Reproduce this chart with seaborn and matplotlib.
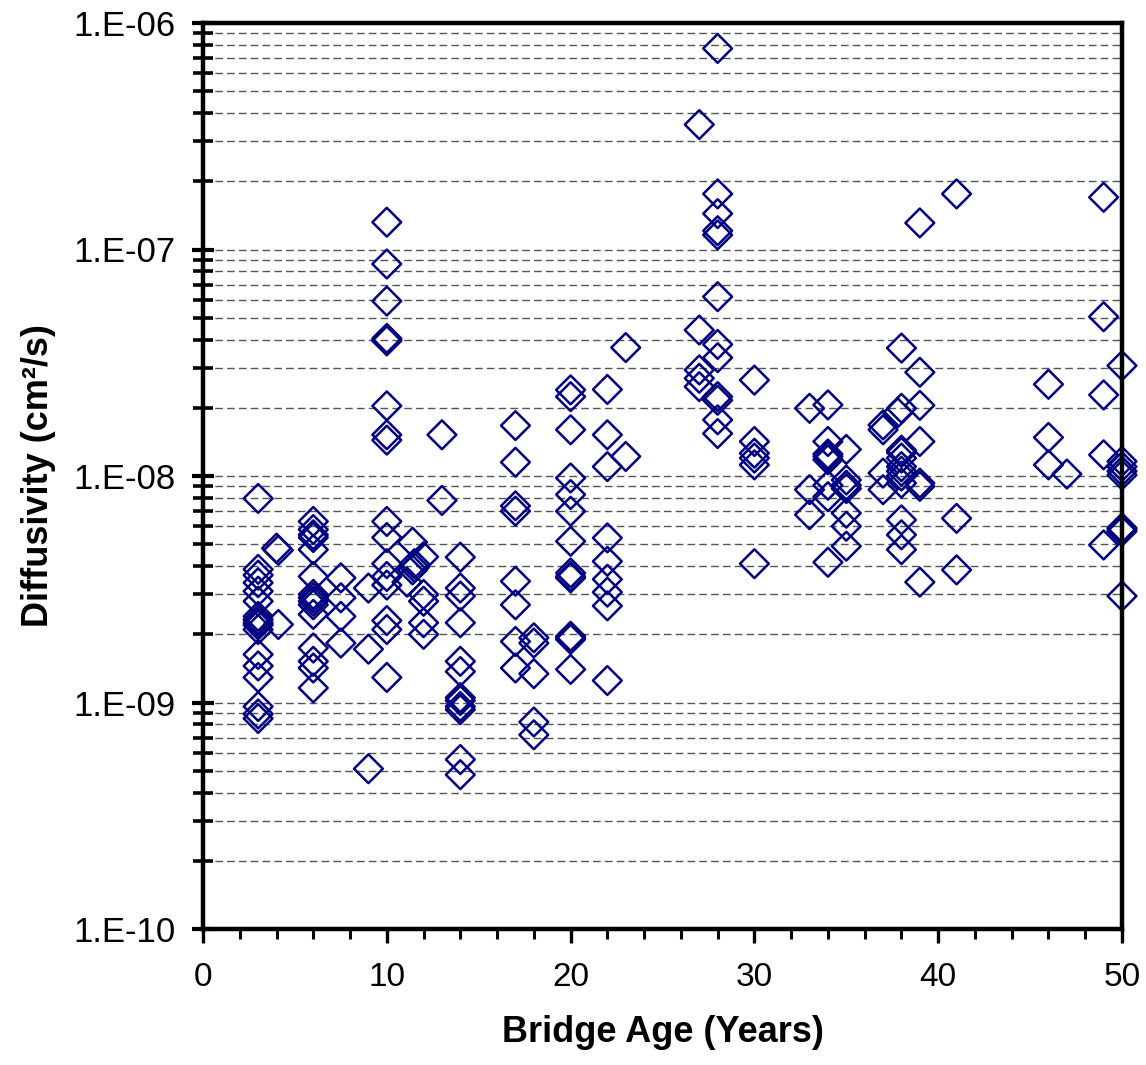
import numpy as np
import pandas as pd
import matplotlib
matplotlib.use("Agg")
import matplotlib.pyplot as plt
from matplotlib.ticker import FixedLocator, FuncFormatter, NullFormatter
import seaborn as sns

# Bridge age (years) for each core sample, grouped by bridge
age_03 = [3] * 17
diff_03 = [7.96e-9, 3.87e-9, 3.65e-9, 3.38e-9, 3.1e-9, 2.8e-9, 2.4e-9, 2.32e-9, 2.25e-9,
           2.2e-9, 2.1e-9, 1.63e-9, 1.45e-9, 1.29e-9, 9.6e-10, 8.9e-10, 8.5e-10]
age_04 = [4, 4.1, 4.1]
diff_04 = [4.8e-9, 4.7e-9, 2.21e-9]
age_06 = [6] * 15
diff_06 = [6.3e-9, 5.8e-9, 5.5e-9, 5.35e-9, 4.73e-9, 3.6e-9, 3.0e-9, 2.9e-9, 2.8e-9,
           2.7e-9, 2.45e-9, 1.74e-9, 1.52e-9, 1.42e-9, 1.16e-9]
age_07 = [7.5] * 4
diff_07 = [3.55e-9, 2.9e-9, 2.4e-9, 1.83e-9]
age_09 = [9] * 3
diff_09 = [3.2e-9, 1.72e-9, 5.1e-10]
age_10 = [10] * 17
diff_10 = [1.32e-7, 8.63e-8, 5.92e-8, 4.0e-8, 3.95e-8, 4.05e-8, 2.04e-8, 1.52e-8, 1.44e-8,
           6.3e-9, 5.35e-9, 4.1e-9, 3.6e-9, 3.3e-9, 2.3e-9, 2.1e-9, 1.29e-9]
age_11 = [11.4, 11.4, 11.1, 11.5, 11.5]
diff_11 = [5.1e-9, 3.85e-9, 3.4e-9, 3.95e-9, 4.1e-9]
age_12 = [12] * 5
diff_12 = [4.4e-9, 3.0e-9, 2.8e-9, 2.25e-9, 2.0e-9]
age_13 = [13, 13]
diff_13 = [1.52e-8, 7.8e-9]
age_14 = [14] * 12
diff_14 = [4.38e-9, 3.2e-9, 2.95e-9, 2.25e-9, 1.52e-9, 1.37e-9, 1.05e-9, 1.02e-9,
           9.6e-10, 9.3e-10, 5.6e-10, 4.8e-10]
age_17 = [17] * 8
diff_17 = [1.67e-8, 1.15e-8, 7.38e-9, 7.0e-9, 3.43e-9, 2.7e-9, 1.86e-9, 1.42e-9]
age_18 = [18] * 5
diff_18 = [1.93e-9, 1.83e-9, 1.34e-9, 8.2e-10, 7.2e-10]
age_20 = [20] * 14
diff_20 = [2.4e-8, 2.24e-8, 1.6e-8, 9.8e-9, 8.28e-9, 6.99e-9, 5.15e-9, 3.73e-9, 3.6e-9,
           3.55e-9, 1.96e-9, 1.9e-9, 1.93e-9, 1.4e-9]
age_22 = [22] * 9
diff_22 = [2.41e-8, 1.52e-8, 1.1e-8, 5.33e-9, 4.2e-9, 3.5e-9, 3.07e-9, 2.67e-9, 1.25e-9]
age_23 = [23, 23]
diff_23 = [3.69e-8, 1.22e-8]
age_27 = [27] * 5
diff_27 = [3.56e-7, 4.41e-8, 2.94e-8, 2.7e-8, 2.48e-8]
age_28 = [28] * 12
diff_28 = [7.72e-7, 1.76e-7, 1.44e-7, 1.21e-7, 1.16e-7, 6.19e-8, 3.81e-8, 3.33e-8,
           2.24e-8, 2.16e-8, 1.77e-8, 1.54e-8]
age_30 = [30] * 6
diff_30 = [2.65e-8, 1.42e-8, 1.26e-8, 1.2e-8, 1.12e-8, 4.1e-9]
age_33 = [33] * 3
diff_33 = [1.99e-8, 8.7e-9, 6.75e-9]
age_34 = [34] * 8
diff_34 = [2.06e-8, 1.42e-8, 1.25e-8, 1.22e-8, 1.18e-8, 9.1e-9, 8.1e-9, 4.16e-9]
age_35 = [35] * 7
diff_35 = [1.31e-8, 9.6e-9, 9.1e-9, 8.8e-9, 6.85e-9, 6.0e-9, 4.9e-9]
age_37 = [37, 37, 37, 37, 37.8]
diff_37 = [1.68e-8, 1.6e-8, 1.03e-8, 8.7e-9, 1.9e-8]
age_38 = [38] * 12
diff_38 = [3.67e-8, 1.99e-8, 1.3e-8, 1.27e-8, 1.2e-8, 1.1e-8, 1.05e-8, 1.0e-8,
           9.3e-9, 6.4e-9, 5.5e-9, 4.73e-9]
age_39 = [39] * 7
diff_39 = [1.31e-7, 2.87e-8, 2.05e-8, 1.42e-8, 9.3e-9, 9.0e-9, 3.4e-9]
age_41 = [41] * 3
diff_41 = [1.76e-7, 6.5e-9, 3.85e-9]
age_46 = [46] * 3
diff_46 = [2.54e-8, 1.48e-8, 1.12e-8]
age_47 = [47]
diff_47 = [1.02e-8]
age_49 = [49] * 5
diff_49 = [1.7e-7, 5.05e-8, 2.28e-8, 1.24e-8, 4.96e-9]
age_50 = [50] * 9
diff_50 = [3.07e-8, 1.16e-8, 1.1e-8, 1.05e-8, 1.01e-8, 5.9e-9, 5.7e-9, 5.8e-9, 2.95e-9]

ages = (age_03 + age_04 + age_06 + age_07 + age_09 + age_10 + age_11 + age_12 + age_13
        + age_14 + age_17 + age_18 + age_20 + age_22 + age_23 + age_27 + age_28 + age_30
        + age_33 + age_34 + age_35 + age_37 + age_38 + age_39 + age_41 + age_46 + age_47
        + age_49 + age_50)
diffs = (diff_03 + diff_04 + diff_06 + diff_07 + diff_09 + diff_10 + diff_11 + diff_12
         + diff_13 + diff_14 + diff_17 + diff_18 + diff_20 + diff_22 + diff_23 + diff_27
         + diff_28 + diff_30 + diff_33 + diff_34 + diff_35 + diff_37 + diff_38 + diff_39
         + diff_41 + diff_46 + diff_47 + diff_49 + diff_50)

df = pd.DataFrame({"age": ages, "diffusivity": diffs})

y_major = [1e-10, 1e-9, 1e-8, 1e-7, 1e-6]
x_major = [0, 10, 20, 30, 40, 50]

sns.set_theme(style="white")
plt.rcParams["font.family"] = ["Liberation Sans", "DejaVu Sans"]
plt.rcParams["text.color"] = "black"
plt.rcParams["axes.labelcolor"] = "black"
plt.rcParams["xtick.color"] = "black"
plt.rcParams["ytick.color"] = "black"

fig = plt.figure(figsize=(11.46, 10.65), dpi=100)
ax = fig.add_axes([203 / 1146, 1 - 929 / 1065, 919 / 1146, 906 / 1065])

navy = "#000080"
sns.scatterplot(data=df, x="age", y="diffusivity", ax=ax, marker="D", s=215,
                facecolors="none", edgecolors=navy, linewidths=1.8,
                clip_on=False, zorder=3, legend=False)

ax.set_yscale("log")
ax.set_ylim(1e-10, 1e-6)
ax.set_xlim(0, 50)

# y axis: decades labelled in spreadsheet style, minor ticks at 2..9
ax.yaxis.set_major_locator(FixedLocator(y_major))
ax.yaxis.set_minor_locator(FixedLocator(
    [m * 10.0 ** e for e in range(-10, -6) for m in range(2, 10)]))
ax.yaxis.set_major_formatter(FuncFormatter(
    lambda v, p: "1.E-%02d" % int(round(-np.log10(v)))))
ax.yaxis.set_minor_formatter(NullFormatter())

ax.xaxis.set_major_locator(FixedLocator(x_major))
ax.xaxis.set_minor_locator(FixedLocator(list(range(0, 51, 2))))

ax.yaxis.grid(True, which="both", color="#555555", linewidth=1.0,
              linestyle=(0, (5.5, 3.0)))
ax.xaxis.grid(False)
ax.set_axisbelow(True)

for side in ["left", "right", "top", "bottom"]:
    ax.spines[side].set_visible(True)
    ax.spines[side].set_color("black")
    ax.spines[side].set_linewidth(3.2)
    ax.spines[side].set_zorder(4)

ax.tick_params(axis="y", which="major", direction="inout", length=16, width=3,
               color="black", labelcolor="black", pad=12, labelsize=25,
               left=True, right=False)
ax.tick_params(axis="y", which="minor", direction="inout", length=14, width=2.6,
               color="black", left=True, right=False)
ax.tick_params(axis="x", which="major", direction="out", length=10, width=2.4,
               color="black", labelcolor="black", pad=14, labelsize=24,
               bottom=True, top=False)
ax.tick_params(axis="x", which="minor", direction="out", length=7, width=2.2,
               color="black", bottom=True, top=False)

ax.set_xlabel("Bridge Age (Years)", fontsize=26, fontweight="bold", color="black")
ax.set_ylabel("Diffusivity (cm²/s)", fontsize=26, fontweight="bold", color="black")
ax.xaxis.set_label_coords(0.5, -0.095)
ax.yaxis.set_label_coords(-0.16, 0.5)

fig.savefig("out.png", dpi=100)
